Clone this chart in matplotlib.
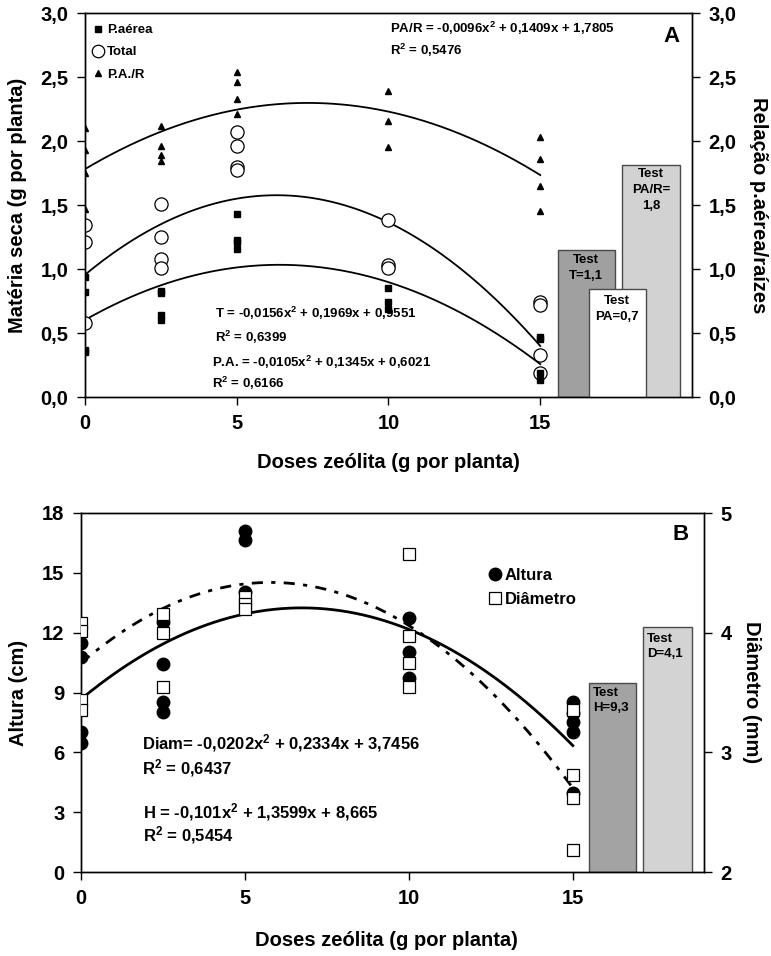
import numpy as np
import matplotlib
matplotlib.use("Agg")
import matplotlib.pyplot as plt
from matplotlib.lines import Line2D
from matplotlib.ticker import FixedLocator, FuncFormatter

plt.rcParams["font.family"] = ["Liberation Sans", "DejaVu Sans"]
plt.rcParams["font.weight"] = "bold"
plt.rcParams["axes.labelweight"] = "bold"
plt.rcParams["mathtext.fontset"] = "custom"
plt.rcParams["mathtext.rm"] = "Liberation Sans:bold"
plt.rcParams["mathtext.it"] = "Liberation Sans:bold"
plt.rcParams["mathtext.bf"] = "Liberation Sans:bold"

# ---- panel A data (dry matter, g per plant) ----
doses = [0, 2.5, 5, 10, 15]
pa_aerea = [[0.94, 0.82, 0.37, 0.35], [0.83, 0.81, 0.64, 0.60],
            [1.43, 1.23, 1.21, 1.16], [0.85, 0.74, 0.69], [0.47, 0.45, 0.19, 0.13]]
total = [[1.34, 1.21, 0.58], [1.51, 1.25, 1.08, 1.01],
         [2.07, 1.96, 1.80, 1.77], [1.38, 1.03, 1.01], [0.74, 0.72, 0.33, 0.19]]
pa_r = [[2.10, 1.93, 1.75, 1.47], [2.12, 1.96, 1.89, 1.84],
        [2.54, 2.46, 2.33, 2.21], [2.39, 2.16, 1.95], [2.03, 1.86, 1.65, 1.45]]
coef_pa = [-0.0105, 0.1345, 0.6021]
coef_total = [-0.0156, 0.1969, 0.9551]
coef_par = [-0.0096, 0.1409, 1.7805]
test_a = [1.15, 0.84, 1.81]  # T, PA, PA/R control bars
test_a_labels = ["Test\nT=1,1", "Test\nPA=0,7", "Test\nPA/R=\n1,8"]

# ---- panel B data ----
altura = [[11.47, 10.77, 7.01, 6.45], [12.55, 10.42, 8.54, 8.04],
          [17.10, 16.65, 14.06], [12.72, 11.05, 9.71], [8.54, 7.96, 7.54, 7.04, 3.95]]
diametro = [[4.08, 4.01, 3.44, 3.35], [4.16, 4.00, 3.55],
            [4.30, 4.24, 4.20], [4.66, 3.97, 3.75, 3.55], [3.35, 2.81, 2.62, 2.18]]
coef_h = [-0.101, 1.3599, 8.665]
coef_d = [-0.0202, 0.2334, 3.7456]
test_h = 9.5
test_d = 4.05


def flat(groups):
    xs = np.concatenate([[d] * len(g) for d, g in zip(doses, groups)])
    ys = np.concatenate(groups)
    return xs, ys


def comma(fmt):
    return FuncFormatter(lambda v, p: fmt.format(v).replace(".", ","))


W, H = 771, 956
fig = plt.figure(figsize=(W / 100, H / 100), dpi=100)


def ftext(x, y, s, **kw):
    fig.text(x / W, 1 - y / H, s, va="center", **kw)


def style_axes(ax, size=14.5):
    ax.tick_params(direction="out", length=6, width=1, labelsize=size, pad=6)
    for sp in ax.spines.values():
        sp.set_linewidth(1)


xfit = np.linspace(0, 15, 200)

# ================= panel A =================
axA = fig.add_axes([85 / W, 1 - 397 / H, (692 - 85) / W, (397 - 13) / H])
axA2 = axA.twinx()
axA.set_xlim(0, 20)
axA.set_ylim(0, 3)
axA2.set_ylim(0, 3)
axA.xaxis.set_major_locator(FixedLocator([0, 5, 10, 15]))
axA.yaxis.set_major_locator(FixedLocator(np.arange(0, 3.01, 0.5)))
axA2.yaxis.set_major_locator(FixedLocator(np.arange(0, 3.01, 0.5)))
axA.yaxis.set_major_formatter(comma("{:.1f}"))
axA2.yaxis.set_major_formatter(comma("{:.1f}"))
style_axes(axA)
style_axes(axA2)

for c in (coef_pa, coef_total, coef_par):
    axA.plot(xfit, np.polyval(c, xfit), color="black", lw=1.3, zorder=2)

x, y = flat(total)
axA.plot(x, y, "o", ms=9.5, mfc="white", mec="black", mew=0.9, zorder=3)
x, y = flat(pa_aerea)
axA.plot(x, y, "s", ms=4.5, color="black", zorder=4)
x, y = flat(pa_r)
axA.plot(x, y, "^", ms=5, color="black", zorder=4)

# control bars: dark (T), light (PA/R), white (PA) on top
bar_x = [16.51, 17.53, 18.65]
bar_c = ["#a0a0a0", "white", "#d2d2d2"]
bar_z = [2, 4, 3]
for bx, h, c, z in zip(bar_x, test_a, bar_c, bar_z):
    axA.bar(bx, h, width=1.88, color=c, edgecolor="#4a4a4a", lw=1, zorder=z)
text_top = [1.12, 0.80, 1.79]
for bx, t, lab in zip(bar_x, text_top, test_a_labels):
    axA.text(bx, t, lab, ha="center", va="top", fontsize=9.5,
             linespacing=1.45, zorder=6)

axA.set_xlabel("Doses zeólita (g por planta)", fontsize=14.5)
axA.xaxis.set_label_coords(0.5, -0.145)
axA.set_ylabel("Matéria seca (g por planta)", fontsize=14.5, va="center")
axA.yaxis.set_label_coords(-0.112, 0.5)
axA2.set_ylabel("Relação p.aérea/raízes", fontsize=14.5, rotation=270, va="center")
axA2.yaxis.set_label_coords(1.109, 0.5)

hA = [Line2D([], [], ls="", marker="s", ms=4, color="black"),
      Line2D([], [], ls="", marker="o", ms=9, mfc="white", mec="black", mew=0.9),
      Line2D([], [], ls="", marker="^", ms=5, color="black")]
fig.legend(hA, ["P.aérea", "Total", "P.A./R"], loc="upper left",
           bbox_to_anchor=(92 / W, 1 - 24 / H), frameon=False, fontsize=9.5,
           handlelength=0.9, handletextpad=0.25, labelspacing=0.75,
           borderpad=0, borderaxespad=0)

ftext(390, 28, "PA/R = -0,0096x$^2$ + 0,1409x + 1,7805", fontsize=9.5)
ftext(390, 50, "R$^2$ = 0,5476", fontsize=9.5)
ftext(215, 313, "T = -0,0156x$^2$ + 0,1969x + 0,9551", fontsize=9.5)
ftext(215, 337, "R$^2$ = 0,6399", fontsize=9.5)
ftext(212, 362, "P.A. = -0,0105x$^2$ + 0,1345x + 0,6021", fontsize=9.5)
ftext(212, 383, "R$^2$ = 0,6166", fontsize=9.5)
ftext(663, 37, "A", fontsize=16)

# ================= panel B =================
axB = fig.add_axes([81 / W, 1 - 872 / H, (704 - 81) / W, (872 - 513) / H])
axB2 = axB.twinx()
axB.set_xlim(0, 19)
axB.set_ylim(0, 18)
axB2.set_ylim(2, 5)
axB.xaxis.set_major_locator(FixedLocator([0, 5, 10, 15]))
axB.yaxis.set_major_locator(FixedLocator(np.arange(0, 18.1, 3)))
axB2.yaxis.set_major_locator(FixedLocator([2, 3, 4, 5]))
style_axes(axB)
style_axes(axB2)

axB.bar(16.2, test_h, width=1.43, color="#a3a3a3", edgecolor="#4a4a4a", lw=1, zorder=2)
axB2.bar(17.88, test_d, width=1.49, color="#d3d3d3", edgecolor="#4a4a4a", lw=1, zorder=2)
axB.text(15.61, 9.3, "Test\nH=9,3", ha="left", va="top", fontsize=9.5, linespacing=1.35)
axB2.text(17.26, 2 + 12.0 / 6, "Test\nD=4,1", ha="left", va="top", fontsize=9.5,
          linespacing=1.35)

axB.plot(xfit, np.polyval(coef_h, xfit), color="black", lw=2, zorder=2)
axB2.plot(xfit, np.polyval(coef_d, xfit), color="black", lw=2,
          dashes=(4, 3, 1.5, 3), zorder=2)
x, y = flat(altura)
axB.plot(x, y, "o", ms=9, color="black", zorder=3)
x, y = flat(diametro)
axB2.plot(x, y, "s", ms=8, mfc="white", mec="black", mew=0.9, zorder=4)

axB.set_xlabel("Doses zeólita (g por planta)", fontsize=14.5)
axB.xaxis.set_label_coords(0.49, -0.165)
axB.set_ylabel("Altura (cm)", fontsize=14.5, va="center")
axB.yaxis.set_label_coords(-0.101, 0.5)
axB2.set_ylabel("Diâmetro (mm)", fontsize=14.5, rotation=270, va="center")
axB2.yaxis.set_label_coords(1.077, 0.5)

hB = [Line2D([], [], ls="", marker="o", ms=9, color="black"),
      Line2D([], [], ls="", marker="s", ms=8, mfc="white", mec="black", mew=0.9)]
fig.legend(hB, ["Altura", "Diâmetro"], loc="upper left",
           bbox_to_anchor=(488 / W, 1 - 568 / H), frameon=False, fontsize=12,
           handlelength=0.8, handletextpad=0.2, labelspacing=0.55,
           borderpad=0, borderaxespad=0)

ftext(142, 743, "Diam= -0,0202x$^2$ + 0,2334x + 3,7456", fontsize=12)
ftext(142, 768, "R$^2$ = 0,6437", fontsize=12)
ftext(143, 812, "H = -0,101x$^2$ + 1,3599x + 8,665", fontsize=12)
ftext(143, 835, "R$^2$ = 0,5454", fontsize=12)
ftext(672, 535, "B", fontsize=16)

fig.savefig("out.png", dpi=100)
